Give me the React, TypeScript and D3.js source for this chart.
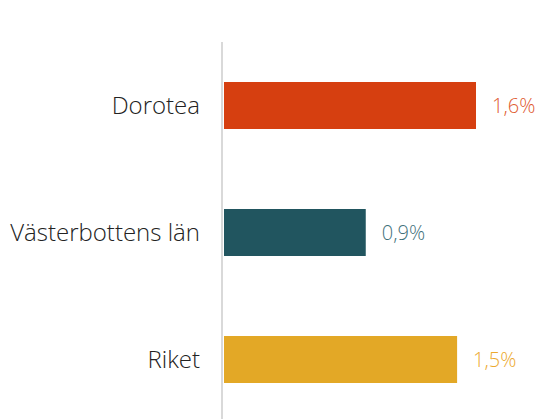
import React, { useEffect, useRef } from "react";
import * as d3 from "d3";

// data
const categories = ["Dorotea", "Västerbottens län", "Riket"];
const values = [1.6, 0.9, 1.48];
const barColors = ["#d63f10", "#21555f", "#e3a826"];
const labelColors = ["#e05a30", "#3f717b", "#eca92e"];

const App = () => {
  const ref = useRef<SVGSVGElement>(null);

  useEffect(() => {
    const width = 539;
    const height = 419;
    const margin = { top: 42, right: 60, bottom: 0, left: 224 };

    const svg = d3.select(ref.current);
    svg.selectAll("*").remove();

    const x = d3
      .scaleLinear()
      .domain([0, 1.6])
      .range([margin.left, margin.left + 252]);

    const y = d3
      .scaleBand()
      .domain(categories)
      .range([margin.top, margin.top + 381])
      .paddingInner(0.63)
      .paddingOuter(0.315);

    const data = categories.map((c, i) => ({
      name: c,
      value: values[i],
      color: barColors[i],
      labelColor: labelColors[i],
    }));

    svg
      .append("g")
      .selectAll("rect")
      .data(data)
      .join("rect")
      .attr("x", x(0))
      .attr("y", (d) => y(d.name)!)
      .attr("width", (d) => x(d.value) - x(0))
      .attr("height", y.bandwidth())
      .attr("fill", (d) => d.color);

    // vertical axis line
    svg
      .append("line")
      .attr("x1", margin.left - 2)
      .attr("x2", margin.left - 2)
      .attr("y1", margin.top)
      .attr("y2", height)
      .attr("stroke", "#d9d9d9")
      .attr("stroke-width", 2);

    const fmt = (v: number) => d3.format(".1f")(v).replace(".", ",") + "%";

    svg
      .append("g")
      .selectAll("text")
      .data(data)
      .join("text")
      .attr("x", margin.left - 24)
      .attr("y", (d) => y(d.name)! + y.bandwidth() / 2)
      .attr("dy", "0.36em")
      .attr("text-anchor", "end")
      .attr("fill", "#222222")
      .style("font-family", "'Open Sans', sans-serif")
      .style("font-weight", 300)
      .style("font-size", "24px")
      .text((d) => d.name);

    svg
      .append("g")
      .selectAll("text")
      .data(data)
      .join("text")
      .attr("x", (d) => x(d.value) + 16)
      .attr("y", (d) => y(d.name)! + y.bandwidth() / 2)
      .attr("dy", "0.36em")
      .attr("fill", (d) => d.labelColor)
      .style("font-family", "'Open Sans', sans-serif")
      .style("font-weight", 300)
      .style("font-size", "20px")
      .text((d) => fmt(d.value));
  }, []);

  return (
    <svg
      ref={ref}
      width={539}
      height={419}
      style={{ position: "absolute", left: 0, top: 0, display: "block" }}
    />
  );
};

export default App;
